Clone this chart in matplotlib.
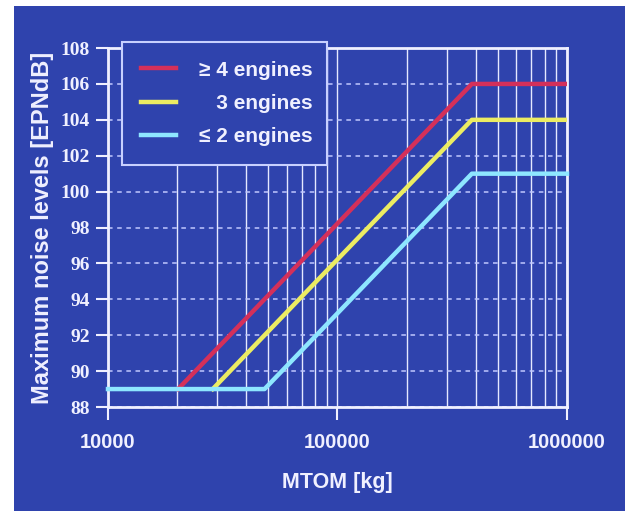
import matplotlib.pyplot as plt
from matplotlib.patches import Rectangle
from matplotlib.ticker import LogLocator, FixedLocator, NullFormatter

# ICAO chapter 3 flyover limits
mtom_4eng = [20200, 385000, 1000000]
noise_4eng = [89, 106, 106]
mtom_3eng = [28600, 385000, 1000000]
noise_3eng = [89, 104, 104]
mtom_2eng = [10000, 48100, 385000, 1000000]
noise_2eng = [89, 89, 101, 101]

labels = ["\u2265 4 engines", "   3 engines", "\u2264 2 engines"]
y_ticks = [88, 90, 92, 94, 96, 98, 100, 102, 104, 106, 108]
x_ticks = [10000, 100000, 1000000]
x_tick_labels = ["10000", "100000", "1000000"]

bg = "#2f43ad"
white = "#f0f0ff"

fig = plt.figure(figsize=(6.3, 5.11), dpi=100)
fig.patch.set_facecolor("white")
fig.patches.append(Rectangle((0.022, 0.0), 0.97, 0.988, transform=fig.transFigure,
                             facecolor=bg, edgecolor="none", zorder=-10))

ax = fig.add_axes([0.1714, 0.2035, 0.7286, 0.7025])
ax.set_facecolor(bg)

ax.plot(mtom_4eng, noise_4eng, color="#d4305a", linewidth=3.2, label=labels[0], zorder=4)
ax.plot(mtom_3eng, noise_3eng, color="#ecec62", linewidth=3.2, label=labels[1], zorder=4)
ax.plot(mtom_2eng, noise_2eng, color="#8ee6ff", linewidth=3.2, label=labels[2], zorder=4,
        clip_on=False)

ax.set_xscale("log")
ax.set_xlim(10000, 1000000)
ax.set_ylim(88, 108)

ax.xaxis.set_major_locator(FixedLocator(x_ticks))
ax.set_xticklabels(x_tick_labels)
ax.xaxis.set_minor_locator(LogLocator(base=10, subs=range(2, 10)))
ax.xaxis.set_minor_formatter(NullFormatter())
ax.set_yticks(y_ticks)

ax.grid(True, which="both", axis="x", color="#e4e8ff", linewidth=1.0, linestyle="-")
ax.grid(True, which="major", axis="y", color="#c0c8ff", linewidth=1.1,
        linestyle=(0, (3, 3)))
ax.set_axisbelow(True)

for side in ["left", "right", "top", "bottom"]:
    ax.spines[side].set_color(white)
    ax.spines[side].set_linewidth(2)

ax.tick_params(axis="both", which="major", color=white, length=9, width=1.5,
               direction="out", pad=4)
ax.tick_params(axis="x", which="minor", length=0)

for t in ax.get_yticklabels():
    t.set_fontfamily("Liberation Serif")
    t.set_fontweight("bold")
    t.set_fontsize(14)
    t.set_color(white)
for t in ax.get_xticklabels():
    t.set_fontfamily("Liberation Sans")
    t.set_fontweight("bold")
    t.set_fontsize(14.5)
    t.set_color(white)
ax.tick_params(axis="x", pad=10)

ax.set_xlabel("MTOM [kg]", fontfamily="Liberation Sans", fontweight="bold",
              fontsize=15.5, color=white, labelpad=14)
ax.set_ylabel("Maximum noise levels [EPNdB]", fontfamily="Liberation Sans",
              fontweight="bold", fontsize=17, color=white, labelpad=5)

# legend box fixed to the width seen in the original
leg = ax.legend(loc="upper left", bbox_to_anchor=(0.0305, 1.0167, 0.4466, 0.0),
                mode="expand", borderaxespad=0,
                frameon=True, fancybox=False, facecolor=bg, framealpha=1,
                edgecolor="#c8d0ff", handlelength=1.7, handletextpad=1.1,
                labelspacing=0.68, borderpad=0.9,
                prop={"family": "Liberation Sans", "weight": "bold", "size": 15})
leg.get_frame().set_linewidth(1.5)
leg.set_zorder(5)
for t in leg.get_texts():
    t.set_color(white)

fig.savefig("out.png", dpi=100, facecolor=fig.get_facecolor())
